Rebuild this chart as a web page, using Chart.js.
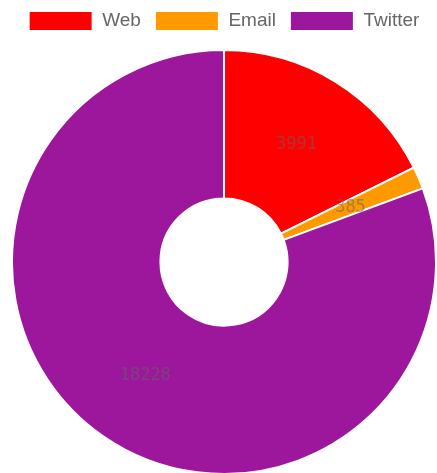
<!DOCTYPE html>
<html>
<head>
<meta charset="utf-8">
<script src="https://cdn.jsdelivr.net/npm/chart.js@4/dist/chart.umd.min.js"></script>
<style>
  html, body { margin: 0; padding: 0; background: #fff; overflow: hidden; }
  #wrap { width: 437px; height: 483px; }
</style>
</head>
<body>
<div id="wrap"><canvas id="sourceChart"></canvas></div>
<script>
// Data
const channels = ['Web', 'Email', 'Twitter'];
const visits = [3991, 385, 18228];
const sliceColors = ['#ff0000', '#ff9900', '#9c179c'];

// Draw the value of each slice at the middle of its arc
const sliceValueLabels = {
  id: 'sliceValueLabels',
  afterDatasetsDraw(chart) {
    const ctx = chart.ctx;
    const meta = chart.getDatasetMeta(0);
    ctx.save();
    ctx.font = '17px "DejaVu Sans Mono", "Liberation Mono", monospace';
    ctx.fillStyle = 'rgba(100, 100, 100, 0.55)';
    ctx.textAlign = 'center';
    ctx.textBaseline = 'middle';
    meta.data.forEach((arc, i) => {
      const pos = arc.tooltipPosition();
      ctx.fillText(String(chart.data.datasets[0].data[i]), pos.x, pos.y);
    });
    ctx.restore();
  }
};

document.addEventListener('DOMContentLoaded', function() {
  const ctx = document.getElementById('sourceChart').getContext('2d');

  new Chart(ctx, {
    type: 'doughnut',
    data: {
      labels: channels,
      datasets: [{
        data: visits,
        backgroundColor: sliceColors,
        borderColor: '#ffffff',
        borderWidth: 2
      }]
    },
    options: {
      responsive: true,
      maintainAspectRatio: false,
      animation: false,
      cutout: '30%',
      layout: {
        padding: { left: 11, right: 0, top: -3, bottom: 0 }
      },
      plugins: {
        legend: {
          position: 'top',
          labels: {
            boxWidth: 64,
            boxHeight: 20,
            padding: 14,
            color: '#666',
            font: { family: '"Liberation Sans", Arial, sans-serif', size: 19 }
          }
        },
        tooltip: { enabled: false }
      }
    },
    plugins: [sliceValueLabels]
  });
});
</script>
</body>
</html>
